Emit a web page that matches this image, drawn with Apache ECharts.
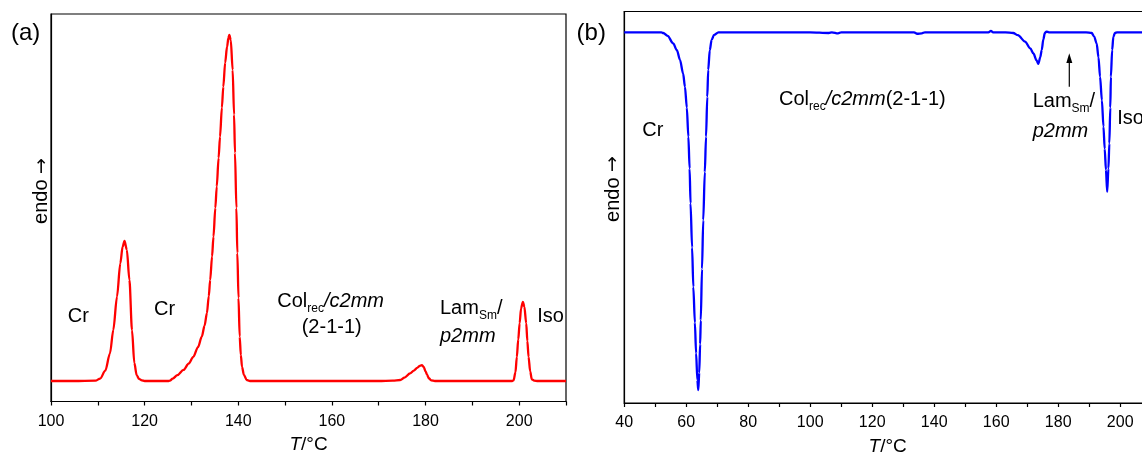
<!DOCTYPE html>
<html>
<head>
<meta charset="utf-8">
<script src="https://cdn.jsdelivr.net/npm/echarts@6/dist/echarts.min.js"></script>
<style>
html,body{margin:0;padding:0;background:#fff;}
#c{width:1142px;height:455px;}
</style>
</head>
<body>
<div id="c"></div>
<script>
// ---- Panel (a): heating trace (endo up) ----
var tempA = [100,105,109.5,110.5,111.6,112.6,113.3,114.1,114.8,115.3,115.7,116.2,116.75,117.3,117.8,118.3,118.8,119.4,120,
  125,125.4,126,127,128.3,129.4,130.4,131.4,132.2,132.8,133.3,133.7,134.0,134.4,134.7,135.1,135.4,135.8,136.1,136.5,136.8,137.2,137.6,137.9,138.1,138.4,138.8,139.1,139.3,139.6,139.8,140.05,140.3,140.55,140.8,141.2,141.8,142.5,
  150,160,170,173,174.6,175.5,176.7,177.5,178.2,178.8,179.2,179.6,180.0,180.3,180.7,181.2,182,
  190,198.5,198.8,199.2,199.5,199.8,200.1,200.4,200.8,201.1,201.5,201.75,202.0,202.35,202.7,203.2,204,210];
var heatA = [0,0,0.01,0.07,0.3,0.8,1.47,2.44,3.4,3.88,4.05,3.79,2.92,1.47,0.52,0.17,0.06,0.02,0,
  0,0.01,0.07,0.17,0.32,0.5,0.7,0.98,1.28,1.6,1.96,2.45,2.92,3.6,4.17,5.0,5.62,6.45,7.06,7.9,8.5,9.2,9.66,9.92,10.0,9.85,8.99,7.7,6.59,5.0,3.7,2.4,1.28,0.75,0.41,0.18,0.03,0,
  0,0,0,0.01,0.03,0.1,0.22,0.3,0.38,0.44,0.46,0.41,0.28,0.19,0.08,0.02,0,
  0,0,0.02,0.25,0.7,1.2,1.67,2.1,2.29,2.15,1.67,1.15,0.7,0.28,0.05,0.01,0,0];

// ---- Panel (b): cooling trace (exo down) ----
var tempB = [40,45,50,52,52.6,54,55.8,57,58,59,59.6,60.2,60.7,61.1,61.4,61.9,62.3,62.8,63.2,63.6,63.9,64.2,64.5,64.7,65.1,65.5,66.0,66.4,66.8,67.1,67.6,68.2,69.0,70.4,
  80,100,106,107,109,110,130,133.5,134.5,136,137,157.5,158.3,159,163,
  165.5,167,169.3,171,172,173,173.6,174.2,174.7,175.2,175.7,176.2,177,
  189,190.8,191.6,192.4,193.0,193.5,194.1,194.6,195.0,195.4,195.8,196.2,196.5,196.8,197.0,197.4,197.8,198.3,199,205,210];
var heatB = [0,0,0,0,-0.02,-0.1,-0.31,-0.5,-0.77,-1.15,-1.52,-2.1,-2.91,-3.8,-4.77,-6.0,-7.1,-8.1,-8.96,-9.7,-9.98,-9.5,-8.7,-8.03,-6.6,-5.24,-3.9,-2.91,-1.8,-1.05,-0.5,-0.21,-0.07,0,
  0,0,-0.02,0,-0.03,0,0,0,-0.04,-0.03,0,0,0.04,0,0,
  -0.02,-0.08,-0.26,-0.45,-0.59,-0.78,-0.88,-0.7,-0.49,-0.2,-0.02,0.02,0,
  0,-0.02,-0.12,-0.31,-0.7,-1.24,-1.9,-2.63,-3.25,-3.84,-4.45,-3.8,-3.1,-2.1,-1.24,-0.5,-0.12,-0.02,0,0,0];

var tickLabelsA = [100,120,140,160,180,200];
var tickLabelsB = [40,60,80,100,120,140,160,180,200];

var FONT = '"Liberation Sans", Arial, Helvetica, sans-serif';

function pairs(xs, ys){ var out=[]; for (var i=0;i<xs.length;i++) out.push([xs[i], ys[i]]); return out; }

function xAxisCfg(gi, mn, mx, labels){
  return {
    type:'value', gridIndex:gi, min:mn, max:mx, interval:10,
    name:'{i|T}{n|/°C}', nameLocation:'middle', nameGap:34,
    nameTextStyle:{ rich:{ i:{fontFamily:FONT,fontSize:19,fontStyle:'italic',color:'#000'}, n:{fontFamily:FONT,fontSize:19,color:'#000'} } },
    axisLine:{show:true,onZero:false,lineStyle:{color:'#000',width:1.2}},
    axisTick:{show:true,length:4,lineStyle:{color:'#000',width:1.2}},
    axisLabel:{show:true,margin:12,fontFamily:FONT,fontSize:16,color:'#000',hideOverlap:false,
      formatter:function(v){ return labels.indexOf(v) >= 0 ? String(v) : ''; }},
    splitLine:{show:false}
  };
}
function yAxisCfg(gi, mn, mx){
  return {
    type:'value', gridIndex:gi, min:mn, max:mx,
    axisLine:{show:true,lineStyle:{color:'#000',width:1.2}},
    axisTick:{show:false}, axisLabel:{show:false}, splitLine:{show:false}
  };
}

function txt(x, y, text, opts){
  opts = opts || {};
  var st = {
    text: text, x: 0, y: 0,
    font: (opts.italic ? 'italic ' : '') + (opts.size || 20) + 'px ' + FONT,
    fill: '#000', align: opts.align || 'left', verticalAlign: 'middle'
  };
  if (opts.rich) st.rich = opts.rich;
  return { type:'text', x:x, y:y, rotation: opts.rot || 0, style: st, z: 100 };
}

var richSub = {
  n:{fontFamily:FONT,fontSize:20,lineHeight:26,color:'#000'},
  i:{fontFamily:FONT,fontSize:20,fontStyle:'italic',lineHeight:26,color:'#000'},
  s:{fontFamily:FONT,fontSize:12,lineHeight:12,verticalAlign:'bottom',color:'#000'}
};
var richEndo = {
  n:{fontFamily:FONT,fontSize:20,lineHeight:24,color:'#000'},
  a:{fontFamily:'"DejaVu Sans", sans-serif',fontSize:19,lineHeight:24,color:'#000'}
};

var chart = echarts.init(document.getElementById('c'), null, {renderer:'canvas'});
chart.setOption({
  backgroundColor:'#fff',
  animation:false,
  grid:[
    {left:51, top:14, width:515, height:387.5, show:true, borderColor:'#000', borderWidth:1.2, backgroundColor:'transparent', containLabel:false, outerBoundsMode:'none'},
    {left:624.2, top:11.5, width:527, height:391.5, show:true, borderColor:'#000', borderWidth:1.2, backgroundColor:'transparent', containLabel:false, outerBoundsMode:'none'}
  ],
  xAxis:[ xAxisCfg(0, 100, 210, tickLabelsA), xAxisCfg(1, 40, 210, tickLabelsB) ],
  yAxis:[ yAxisCfg(0, -0.592, 10.607), yAxisCfg(1, -10.34, 0.58) ],
  series:[
    {type:'line', xAxisIndex:0, yAxisIndex:0, data:pairs(tempA, heatA), showSymbol:false, smooth:0.3, smoothMonotone:'x',
      lineStyle:{color:'#ff0000', width:2.3}, itemStyle:{color:'#ff0000'}},
    {type:'line', xAxisIndex:1, yAxisIndex:1, data:pairs(tempB, heatB), showSymbol:false, smooth:0.3, smoothMonotone:'x',
      lineStyle:{color:'#0000ff', width:2.3}, itemStyle:{color:'#0000ff'}}
  ],
  graphic:[
    txt(11, 33.3, '(a)', {size:24}),
    txt(576.6, 33.3, '(b)', {size:24}),
    txt(41.6, 191, '{n|endo }{a|\u2192}', {size:20, align:'center', rot:Math.PI/2, rich:richEndo}),
    txt(613.3, 189, '{n|endo }{a|\u2192}', {size:20, align:'center', rot:Math.PI/2, rich:richEndo}),
    // panel a annotations
    txt(67.7, 316.5, 'Cr'),
    txt(154, 309.9, 'Cr'),
    txt(277.3, 301.5, '{n|Col}{s|rec}{i|/c2mm}', {rich:richSub}),
    txt(301.7, 327.5, '(2-1-1)'),
    txt(440, 308.2, '{n|Lam}{s|Sm}{n|/}', {rich:richSub}),
    txt(440, 336.5, 'p2mm', {italic:true}),
    txt(537.3, 316.5, 'Iso'),
    // panel b annotations
    txt(642.2, 130.9, 'Cr'),
    txt(779, 99.2, '{n|Col}{s|rec}{i|/c2mm}{n|(2-1-1)}', {rich:richSub}),
    txt(1032.7, 101.2, '{n|Lam}{s|Sm}{n|/}', {rich:richSub}),
    txt(1032.7, 131.5, 'p2mm', {italic:true}),
    txt(1117.3, 118.2, 'Iso'),
    {type:'line', shape:{x1:1069.3, y1:86.7, x2:1069.3, y2:61}, style:{stroke:'#000', lineWidth:1.2}, z:100},
    {type:'polygon', shape:{points:[[1069.3,53.3],[1066.3,63],[1072.3,63]]}, style:{fill:'#000'}, z:100}
  ]
});
</script>
</body>
</html>
